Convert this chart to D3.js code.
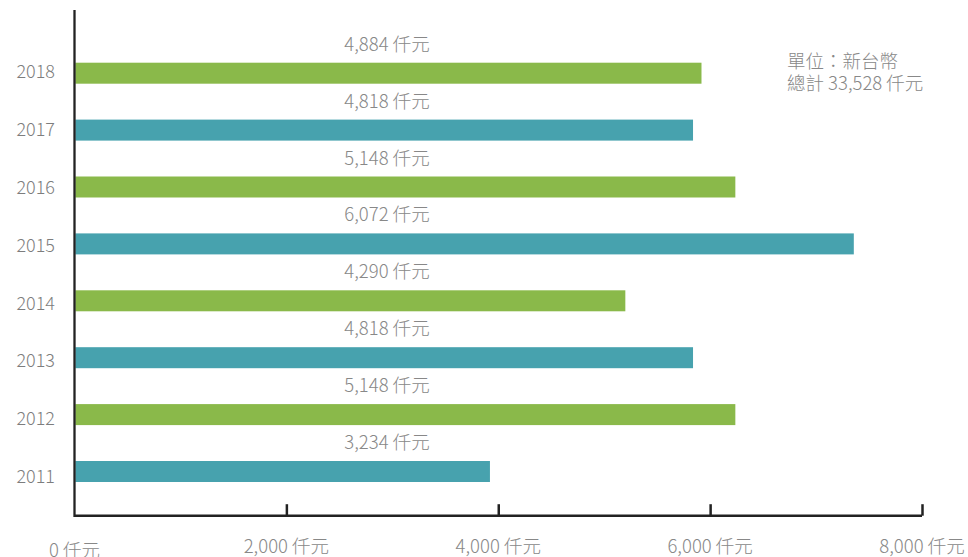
<!DOCTYPE html>
<html>
<head>
<meta charset="utf-8">
<script src="https://cdn.jsdelivr.net/npm/d3@7"></script>
<style>
  html, body { margin: 0; padding: 0; background: #fff; }
  svg { display: block; font-family: "Noto Sans CJK TC", "Noto Sans", sans-serif; font-weight: 300; }
</style>
</head>
<body>
<svg id="chart" width="968" height="557"></svg>
<script>
// ---- data ----
const years = ["2018", "2017", "2016", "2015", "2014", "2013", "2012", "2011"];
const values = [4884, 4818, 5148, 6072, 4290, 4818, 5148, 3234];
const tickValues = [0, 2000, 4000, 6000, 8000];
const unitLabel = "仟元";
const noteLines = ["單位：新台幣", "總計 33,528 仟元"];

const data = years.map((y, i) => ({ year: y, value: values[i] }));

const svg = d3.select("#chart");
const fmt = d3.format(",");

// ---- scales ----
const xBar = d3.scaleLinear().domain([0, 8000]).range([75.3, 1101]);
const xAxis = d3.scaleLinear().domain([0, 8000]).range([74.5, 922]);
const yBar = d3.scaleBand().domain(years).range([62.7, 482]).paddingInner(0.631).paddingOuter(0);
const yLabel = d3.scalePoint().domain(years).range([71.7, 476.7]);
const color = d3.scaleOrdinal().domain(years.slice().reverse()).range(["#47a2ae", "#8ab94a"]);

// ---- bars ----
svg.append("g").selectAll("rect").data(data).join("rect")
  .attr("x", xBar(0))
  .attr("y", d => yBar(d.year))
  .attr("width", d => xBar(d.value) - xBar(0))
  .attr("height", yBar.bandwidth())
  .attr("fill", d => color(d.year));

// ---- value labels ----
svg.append("g").selectAll("text").data(data).join("text")
  .attr("x", 387)
  .attr("y", d => yBar(d.year) - 12)
  .attr("text-anchor", "middle")
  .attr("font-size", 18.5)
  .attr("fill", "#888")
  .text(d => fmt(d.value) + " " + unitLabel);

// ---- year labels ----
svg.append("g").selectAll("text").data(data).join("text")
  .attr("x", 55)
  .attr("y", d => yLabel(d.year) + 6.5)
  .attr("text-anchor", "end")
  .attr("font-size", 18)
  .attr("fill", "#7d7d7d")
  .text(d => d.year);

// ---- axes ----
const axisG = svg.append("g").attr("transform", "translate(0,515.7)");
axisG.call(d3.axisTop(xAxis).tickValues(tickValues).tickSize(11.5).tickFormat(""));
axisG.select(".domain").attr("d", `M${xAxis(0)},0H${xAxis(8000)}`)
  .attr("stroke", "#222").attr("stroke-width", 2.5);
axisG.selectAll(".tick line").attr("stroke", "#222").attr("stroke-width", 2.5);
axisG.selectAll(".tick").filter(d => d === 0).select("line").remove();

svg.append("g").selectAll("text").data(tickValues).join("text")
  .attr("x", d => xAxis(d))
  .attr("y", (d, i) => i === 0 ? 557 : 553.3)
  .attr("text-anchor", "middle")
  .attr("font-size", 18.5)
  .attr("fill", "#888")
  .text(d => fmt(d) + " " + unitLabel);

// vertical axis line
svg.append("line")
  .attr("x1", xAxis(0)).attr("x2", xAxis(0))
  .attr("y1", 10).attr("y2", 517)
  .attr("stroke", "#222").attr("stroke-width", 2.3);

// ---- note ----
svg.append("g").selectAll("text").data(noteLines).join("text")
  .attr("x", 787)
  .attr("y", (d, i) => 68 + i * 22)
  .attr("font-size", 18.5)
  .attr("fill", "#888")
  .text(d => d);
</script>
</body>
</html>
